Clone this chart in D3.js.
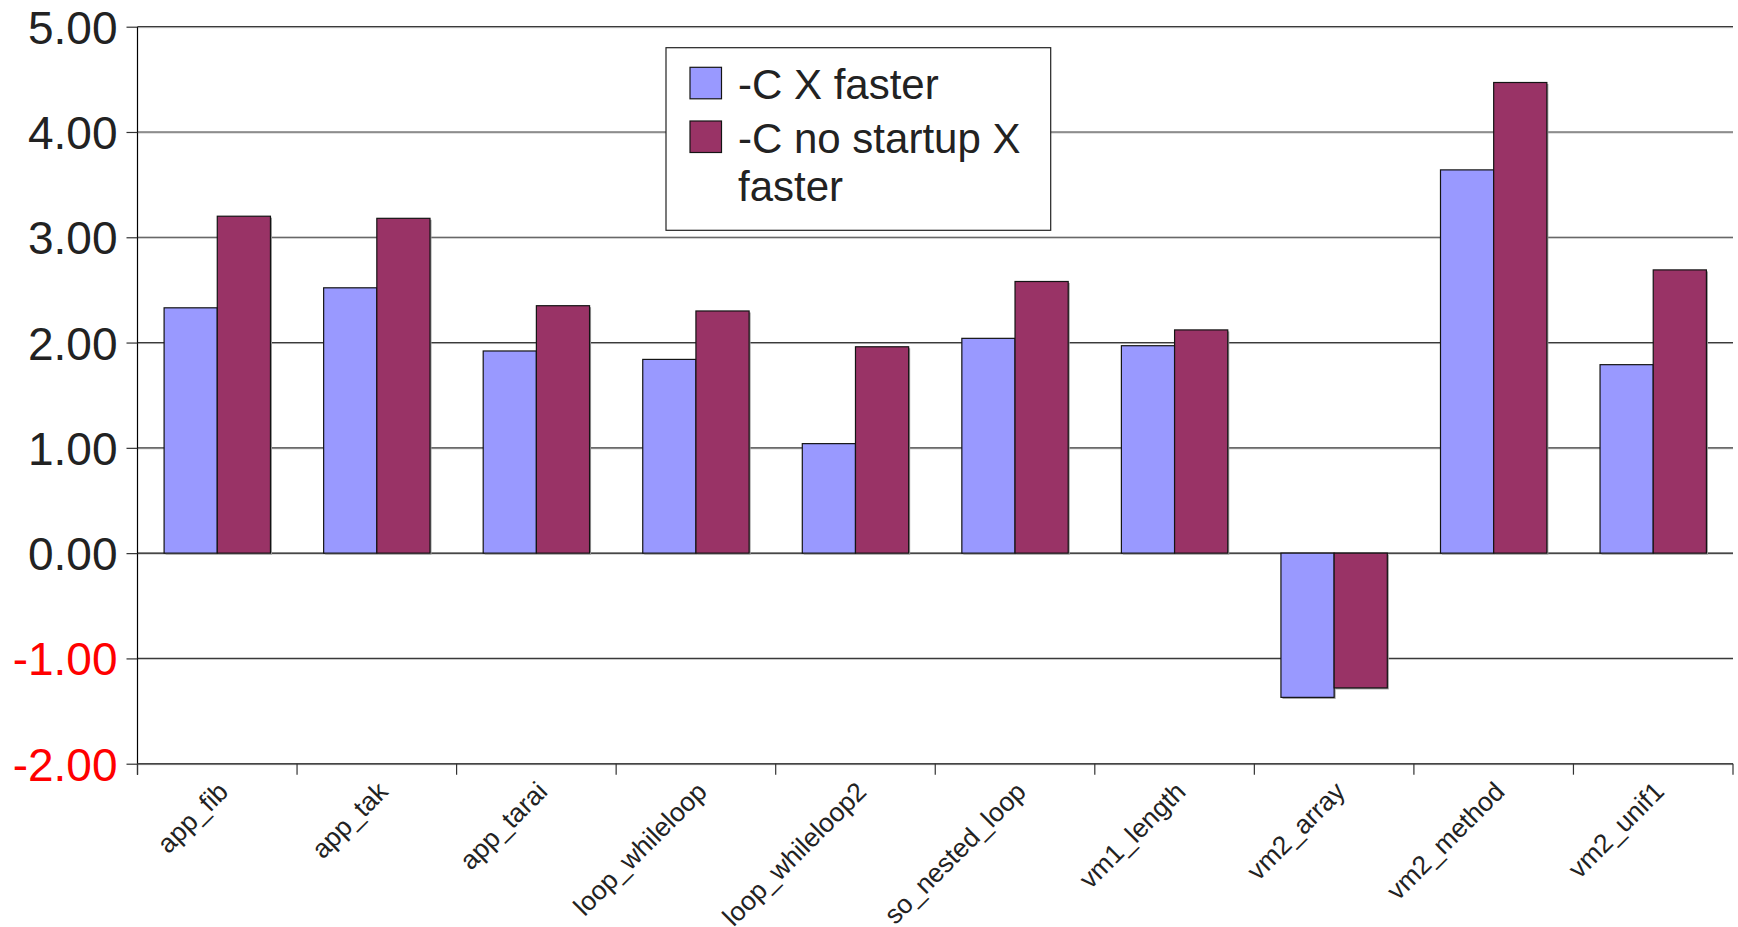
<!DOCTYPE html>
<html>
<head>
<meta charset="utf-8">
<script src="https://cdn.jsdelivr.net/npm/d3@7"></script>
<style>
  html, body { margin: 0; padding: 0; background: #fff; }
  svg { display: block; font-family: "Liberation Sans", Arial, sans-serif; }
</style>
</head>
<body>
<svg id="chart" width="1738" height="927"></svg>
<script>
// Benchmarks and speed-up factors
const categories = ["app_fib", "app_tak", "app_tarai", "loop_whileloop", "loop_whileloop2",
  "so_nested_loop", "vm1_length", "vm2_array", "vm2_method", "vm2_unif1"];
const seriesNames = ["-C X faster", "-C no startup X faster"];
const cFaster = [2.33, 2.52, 1.92, 1.84, 1.04, 2.04, 1.97, -1.37, 3.64, 1.79];
const cNoStartupFaster = [3.20, 3.18, 2.35, 2.30, 1.96, 2.58, 2.12, -1.28, 4.47, 2.69];
const yTicks = [-2, -1, 0, 1, 2, 3, 4, 5];
const seriesColors = ["#9999ff", "#993366"];

const svg = d3.select("#chart");
const plotLeft = 137.5, plotRight = 1733, plotTop = 26.7, plotBottom = 763.7;

const x = d3.scaleBand().domain(categories).range([plotLeft, plotRight]).paddingInner(0).paddingOuter(0);
const xs = d3.scaleBand().domain(seriesNames).range([0, x.bandwidth()]).paddingInner(0).paddingOuter(0.5);
const y = d3.scaleLinear().domain([-2, 5]).range([plotBottom, plotTop]);
const color = d3.scaleOrdinal().domain(seriesNames).range(seriesColors);

// plain hyphen for negative numbers
const fmt = d3.formatLocale({ decimal: ".", thousands: ",", grouping: [3], currency: ["", ""], minus: "-" }).format(".2f");

const rows = categories.map((c, i) => ({ cat: c, vals: [cFaster[i], cNoStartupFaster[i]] }));

// horizontal gridlines
const grid = svg.append("g");
grid.selectAll("line.shade").data(yTicks).join("line")
  .attr("class", "shade")
  .attr("x1", plotLeft).attr("x2", plotRight)
  .attr("y1", d => y(d) + 1).attr("y2", d => y(d) + 1)
  .attr("stroke", "#c4c4c4").attr("stroke-width", 1);
grid.selectAll("line.main").data(yTicks).join("line")
  .attr("class", "main")
  .attr("x1", plotLeft).attr("x2", plotRight)
  .attr("y1", d => y(d)).attr("y2", d => y(d))
  .attr("stroke", d => d === 0 ? "#111" : "#3a3a3a").attr("stroke-width", 1.2);

// bars
const groups = svg.append("g").selectAll("g").data(rows).join("g")
  .attr("transform", d => `translate(${x(d.cat)},0)`);
const barData = d => d.vals.map((v, k) => ({ name: seriesNames[k], v }));
groups.selectAll("rect.shadow").data(barData).join("rect")
  .attr("class", "shadow")
  .attr("x", d => xs(d.name) + 1.5)
  .attr("y", d => Math.min(y(0), y(d.v)) + 1.5)
  .attr("width", xs.bandwidth())
  .attr("height", d => Math.abs(y(d.v) - y(0)))
  .attr("fill", "#9a9a9a");
groups.selectAll("rect.bar").data(barData).join("rect")
  .attr("class", "bar")
  .attr("x", d => xs(d.name))
  .attr("y", d => Math.min(y(0), y(d.v)))
  .attr("width", xs.bandwidth())
  .attr("height", d => Math.abs(y(d.v) - y(0)))
  .attr("fill", d => color(d.name))
  .attr("stroke", "#141414").attr("stroke-width", 1.2);

// y axis
const yAxis = svg.append("g").attr("transform", `translate(${plotLeft},0)`)
  .call(d3.axisLeft(y).tickValues(yTicks).tickSize(11).tickPadding(9).tickFormat(fmt));
yAxis.select(".domain").attr("stroke", "#000").attr("stroke-width", 1.2)
  .attr("d", `M0,${plotTop}V${plotBottom + 11}`);
yAxis.selectAll(".tick line").attr("stroke", "#333").attr("stroke-width", 1.2);
yAxis.selectAll(".tick text")
  .attr("font-size", 46)
  .attr("font-family", "Liberation Sans, Arial, sans-serif")
  .attr("fill", d => d < 0 ? "#ff0000" : "#222")
  .attr("dy", "0.36em");

// x axis: baseline, boundary ticks, rotated labels
const xAxis = svg.append("g");
xAxis.append("line").attr("x1", plotLeft).attr("x2", plotRight).attr("y1", plotBottom).attr("y2", plotBottom)
  .attr("stroke", "#444").attr("stroke-width", 1.5);
const bounds = categories.map(c => x(c) + x.bandwidth()).concat([x(categories[0])]);
xAxis.selectAll("line.tick").data(bounds).join("line")
  .attr("class", "tick")
  .attr("x1", d => d).attr("x2", d => d)
  .attr("y1", plotBottom).attr("y2", plotBottom + 11)
  .attr("stroke", "#333").attr("stroke-width", 1.2);
xAxis.selectAll("text").data(categories).join("text")
  .attr("transform", c => `translate(${x(c) + x.bandwidth() / 2 - 1},${plotBottom + 16}) rotate(-45)`)
  .attr("text-anchor", "end")
  .attr("dy", "0.72em")
  .attr("font-size", 26.5)
  .attr("fill", "#222")
  .text(c => c);

// legend
const legend = svg.append("g");
legend.append("rect").attr("x", 666).attr("y", 47.7).attr("width", 384.7).attr("height", 182.6)
  .attr("fill", "#fff").attr("stroke", "#222").attr("stroke-width", 1.2);
const legendLines = [["-C X faster"], ["-C no startup X", "faster"]];
const legendY = [67.3, 121];
seriesNames.forEach((s, i) => {
  legend.append("rect").attr("x", 690).attr("y", legendY[i]).attr("width", 31.5).attr("height", 31.5)
    .attr("fill", color(s)).attr("stroke", "#141414").attr("stroke-width", 1.2);
  const t = legend.append("text").attr("x", 738).attr("y", legendY[i] + 32)
    .attr("font-size", 42).attr("fill", "#222");
  legendLines[i].forEach((ln, j) => {
    t.append("tspan").attr("x", 738).attr("dy", j === 0 ? 0 : 48.4).text(ln);
  });
});
</script>
</body>
</html>
